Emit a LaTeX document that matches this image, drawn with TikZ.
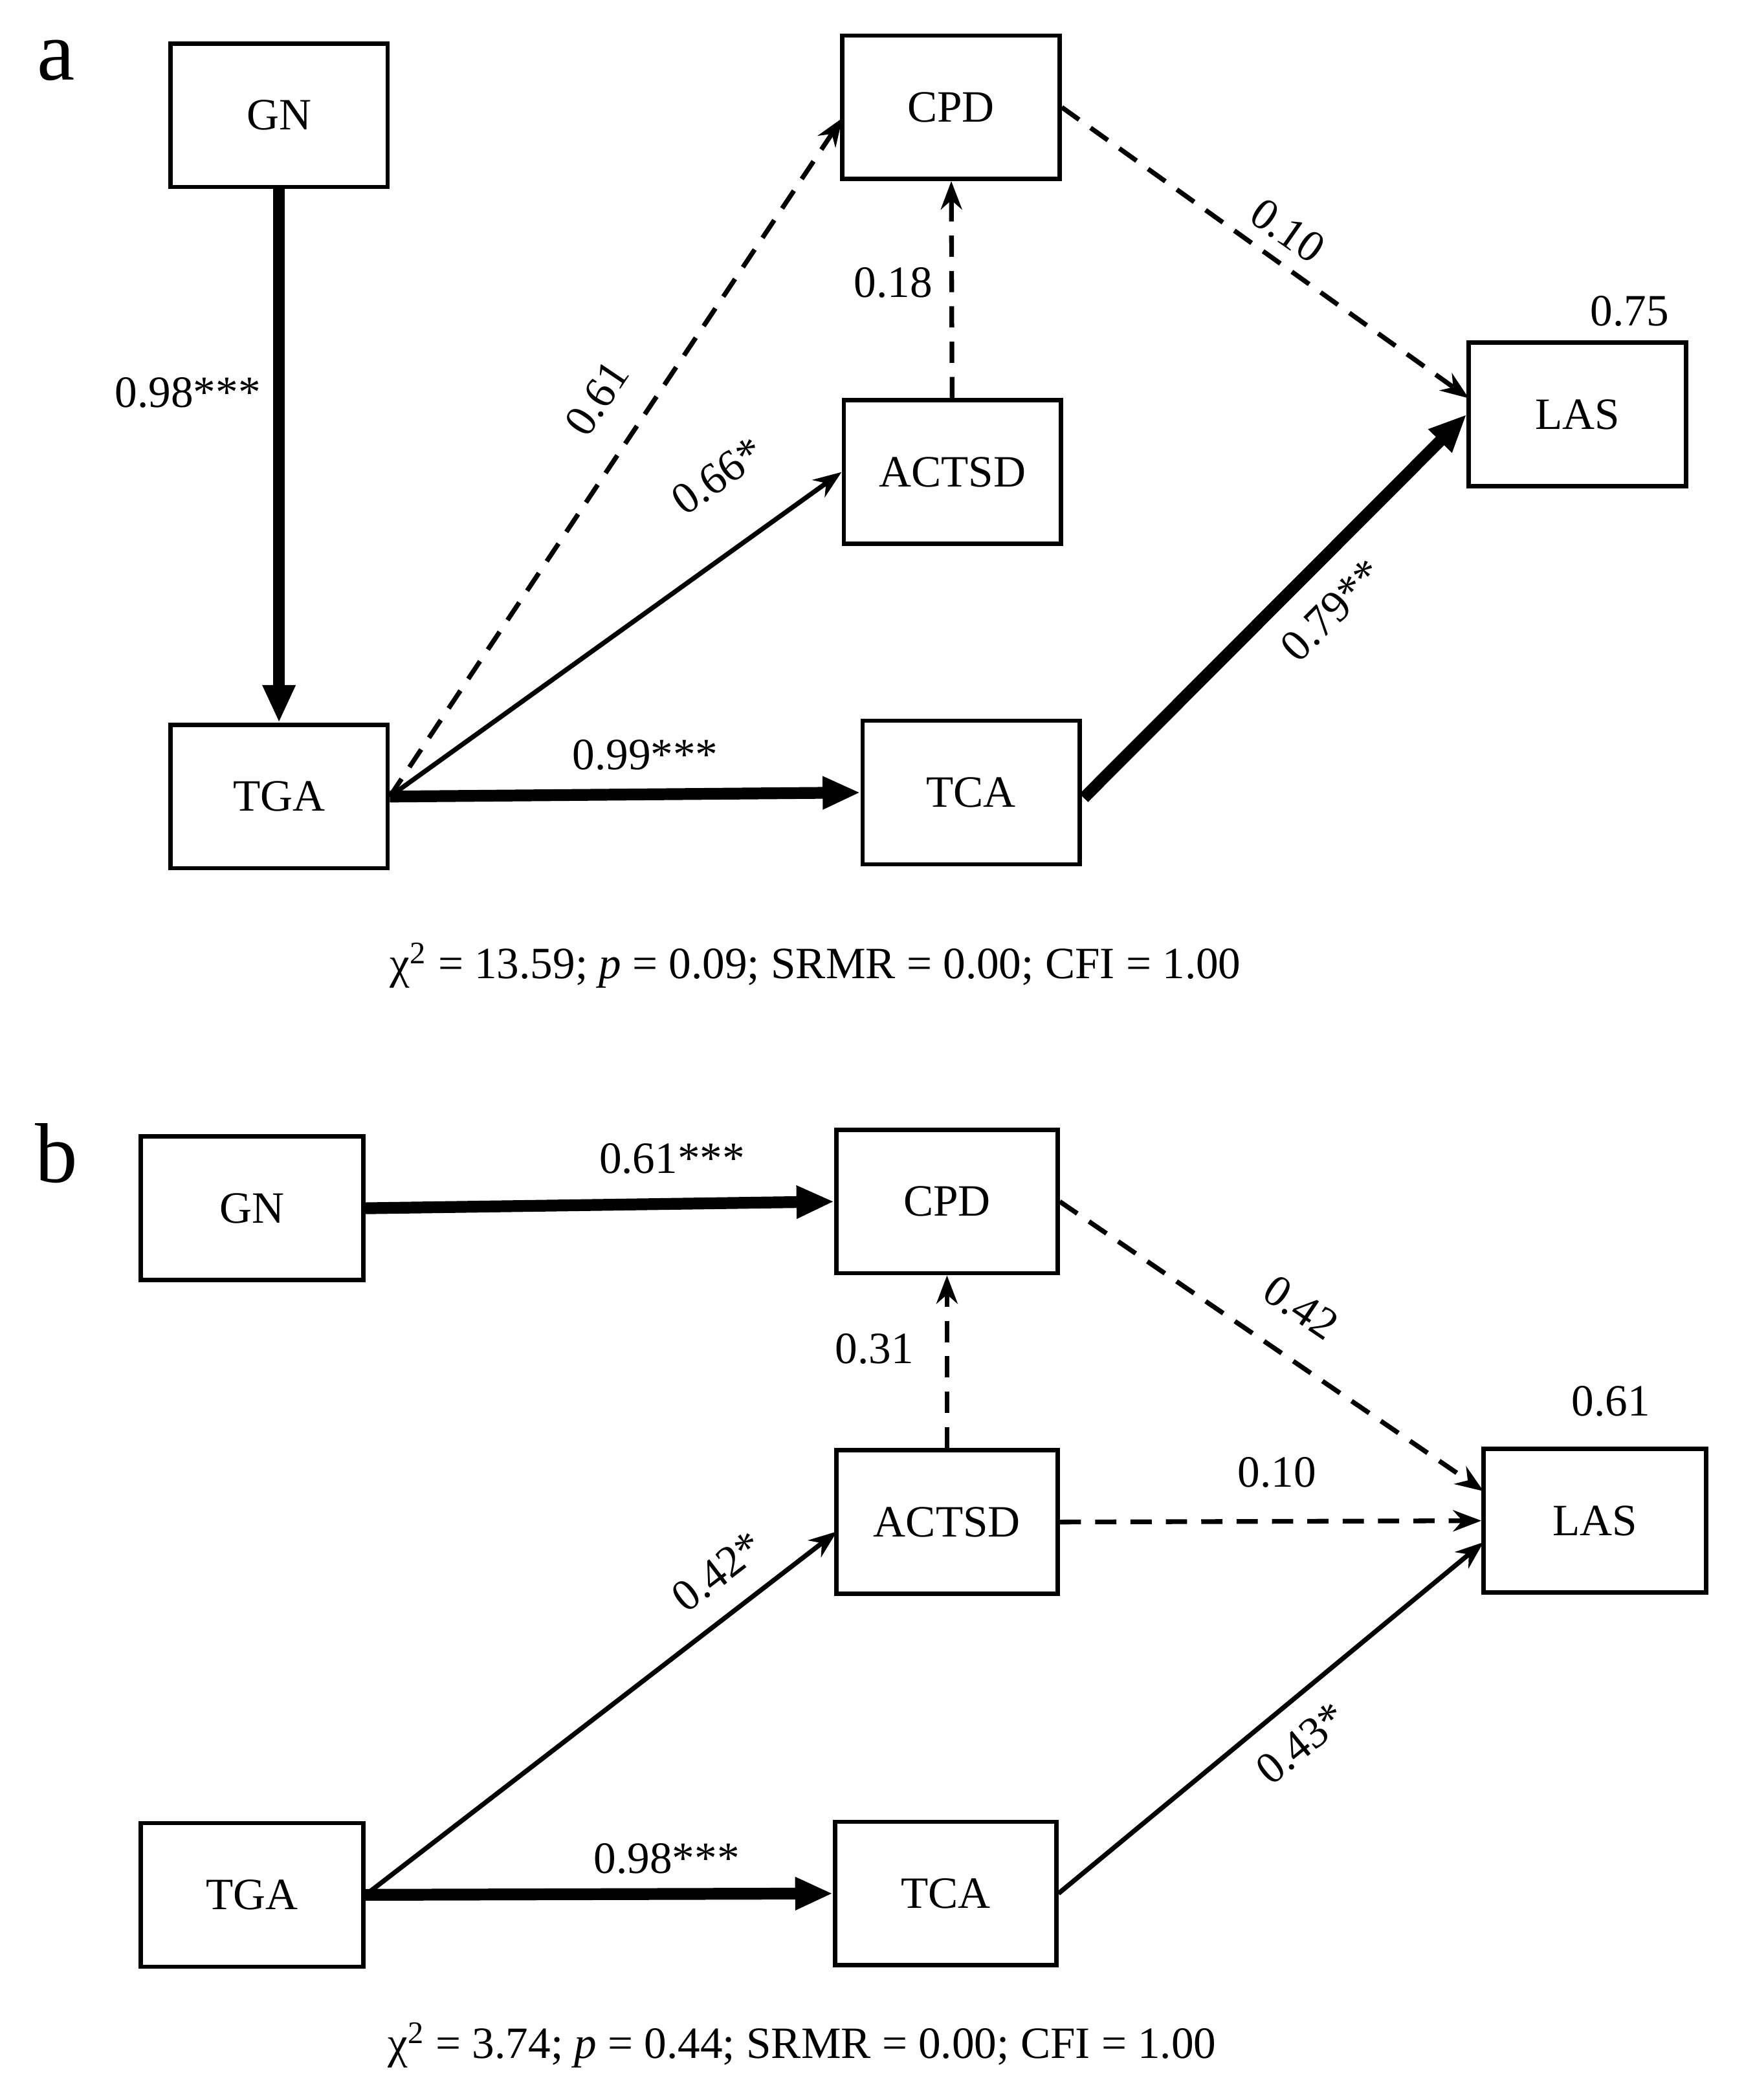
\documentclass[tikz,border=0pt]{standalone}
\usepackage{fontspec}
\setmainfont{Liberation Serif}
\usetikzlibrary{arrows.meta}
\begin{document}
\begin{tikzpicture}[x=0.2mm,y=-0.2mm,
  box/.style={draw,line width=1.8pt,minimum width=3.24cm,minimum height=2.14cm,inner sep=0pt,font=\fontsize{19}{22}\selectfont},
  lab/.style={font=\fontsize{19}{22}\selectfont,inner sep=0pt},
  thin/.style={line width=2pt,-{Stealth[length=12pt,width=9pt]}},
  thk/.style={line width=5pt,-{Stealth[length=16pt,width=13pt,inset=0pt]}},
  dsh/.style={thin,dash pattern=on 9pt off 6pt}]
\useasboundingbox (0,0) rectangle (1300,1566);
% panel a
\node[lab,font=\fontsize{36}{38}\selectfont] (la) at (42,45) {a};
\node[box] (gn) at (208,86) {GN};
\node[box] (cpd) at (709,80) {CPD};
\node[box] (act) at (710,352) {ACTSD};
\node[box] (las) at (1176,309) {LAS};
\node[box] (tga) at (208,594) {TGA};
\node[box] (tca) at (724,591) {TCA};
\coordinate (c1) at (628,88);
\coordinate (t1) at (808,595);
\coordinate (l1) at (1095,297);
\draw[thk] (gn) -- (tga);
\draw[dsh] (tga.east) -- (c1);
\draw[thin] (tga.east) -- (act.west);
\draw[dsh] (act) -- (cpd);
\draw[thk] (tga.east) -- (tca.west);
\draw[thk] (t1) -- (las.west);
\draw[dsh] (cpd.east) -- (l1);
\node[lab] (e1) at (140,293) {0.98***};
\node[lab,rotate=56] (e2) at (445,297) {0.61};
\node[lab,rotate=35] (e3) at (535,355) {0.66*};
\node[lab] (e4) at (666,211) {0.18};
\node[lab] (e5) at (481,563) {0.99***};
\node[lab,rotate=45] (e6) at (993,455) {0.79**};
\node[lab,rotate=-35] (e7) at (960,172) {0.10};
\node[lab] (r1) at (1215,232) {0.75};
\node[lab] (s1) at (608,720) {χ\textsuperscript{2} = 13.59; \textit{p} = 0.09; SRMR = 0.00; CFI = 1.00};
% panel b
\node[lab,font=\fontsize{36}{38}\selectfont] (lb) at (42,860) {b};
\node[box,minimum width=3.32cm] (gn2) at (188,901) {GN};
\node[box,minimum width=3.30cm] (cpd2) at (706,896) {CPD};
\node[box,minimum width=3.30cm] (act2) at (706,1135) {ACTSD};
\node[box,minimum width=3.32cm] (las2) at (1189,1134) {LAS};
\node[box,minimum width=3.32cm] (tga2) at (188,1413) {TGA};
\node[box,minimum width=3.30cm] (tca2) at (705,1412) {TCA};
\coordinate (l2) at (1106,1112);
\coordinate (a2) at (624,1142);
\coordinate (l3) at (1106,1150);
\draw[thk] (gn2.east) -- (cpd2.west);
\draw[dsh] (cpd2.east) -- (l2);
\draw[dsh] (act2) -- (cpd2);
\draw[dsh] (act2.east) -- (las2.west);
\draw[thin] (tga2.east) -- (a2);
\draw[thk] (tga2.east) -- (tca2.west);
\draw[thin] (tca2.east) -- (l3);
\node[lab] (f1) at (501,864) {0.61***};
\node[lab,rotate=-34] (f2) at (970,975) {0.42};
\node[lab] (f3) at (652,1006) {0.31};
\node[lab] (f4) at (952,1098) {0.10};
\node[lab,rotate=37.5] (f5) at (535,1172) {0.42*};
\node[lab] (f6) at (497,1386) {0.98***};
\node[lab,rotate=39] (f7) at (970,1300) {0.43*};
\node[lab] (r2) at (1201,1045) {0.61};
\node[lab] (s2) at (598,1525) {χ\textsuperscript{2} = 3.74; \textit{p} = 0.44; SRMR = 0.00; CFI = 1.00};
\end{tikzpicture}
\end{document}
